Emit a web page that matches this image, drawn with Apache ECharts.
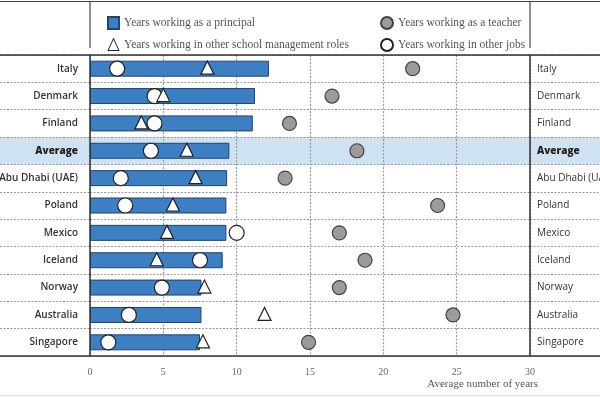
<!DOCTYPE html>
<html>
<head>
<meta charset="utf-8">
<script src="https://cdn.jsdelivr.net/npm/echarts/dist/echarts.min.js"></script>
<style>html,body{margin:0;padding:0;background:#fff;}#c{width:600px;height:400px;}</style>
</head>
<body>
<div id="c"></div>
<script>
const categories = ['Italy','Denmark','Finland','Average','Abu Dhabi (UAE)','Poland','Mexico','Iceland','Norway','Australia','Singapore'];
const principalYears = [12.2, 11.25, 11.1, 9.5, 9.35, 9.3, 9.3, 9.05, 7.6, 7.6, 7.5];
const teacherYears = [22.0, 16.5, 13.6, 18.2, 13.3, 23.7, 17.0, 18.75, 17.0, 24.75, 14.9];
const mgmtYears = [8.0, 5.0, 3.5, 6.6, 7.2, 5.65, 5.25, 4.55, 7.8, 11.9, 7.7];
const otherJobsYears = [1.85, 4.4, 4.4, 4.15, 2.1, 2.4, 10.0, 7.5, 4.9, 2.65, 1.25];
const xTicks = {min: 0, max: 30, interval: 5};
const names = {
  principal: 'Years working as a principal',
  mgmt: 'Years working in other school management roles',
  teacher: 'Years working as a teacher',
  other: 'Years working in other jobs'
};

const chart = echarts.init(document.getElementById('c'));
const hl = categories.indexOf('Average');
const bandColors = categories.map((c, i) => i === hl ? '#cfe2f1' : 'rgba(0,0,0,0)');
const sep = {show: true, lineStyle: {color: '#9a9a9a', type: [2, 1.5], width: 1.2}};
const area = {show: true, areaStyle: {color: bandColors}};
const sans = 'Open Sans';
const serif = 'Liberation Serif';
const gTop = 55, gBottom = 44;

function yAx(grid, extra) {
  return Object.assign({
    type: 'category', data: categories, inverse: true, gridIndex: grid,
    axisLine: {show: false}, axisTick: {show: false},
    splitLine: sep, splitArea: area, axisLabel: {show: false}
  }, extra);
}

chart.setOption({
  animation: false,
  grid: [
    {left: 90, right: 70, top: gTop, bottom: gBottom, containLabel: false, outerBoundsMode: 'none'},
    {left: 0, width: 90, top: gTop, bottom: gBottom, containLabel: false, outerBoundsMode: 'none'},
    {left: 530, right: 0, top: gTop, bottom: gBottom, containLabel: false, outerBoundsMode: 'none'}
  ],
  legend: [
    {orient: 'vertical', left: 102, top: 11, itemWidth: 11, itemHeight: 12, itemGap: 8,
     textStyle: {fontFamily: serif, fontSize: 11.5, color: '#555'},
     data: [{name: names.principal, icon: 'rect'}, {name: names.mgmt, itemStyle: {borderWidth: 1}}]},
    {orient: 'vertical', left: 375, top: 11, itemWidth: 12, itemHeight: 12, itemGap: 8,
     textStyle: {fontFamily: serif, fontSize: 11.5, color: '#555'},
     data: [names.teacher, names.other]}
  ],
  xAxis: [
    {type: 'value', gridIndex: 0, min: xTicks.min, max: xTicks.max, interval: xTicks.interval,
     axisLine: {show: false}, axisTick: {show: false},
     axisLabel: {color: '#666', fontFamily: serif, fontSize: 10, margin: 11},
     splitLine: sep,
     name: 'Average number of years', nameLocation: 'end', nameGap: 8,
     nameTextStyle: {fontFamily: serif, fontSize: 11, color: '#555', align: 'right', verticalAlign: 'top', padding: [23, 0, 0, 0]}},
    {type: 'value', gridIndex: 1, show: false, min: 0, max: 1},
    {type: 'value', gridIndex: 2, show: false, min: 0, max: 1}
  ],
  yAxis: [
    yAx(0, {axisLabel: {show: true, margin: 12, color: '#333', fontFamily: sans, fontSize: 10, fontWeight: 600,
      formatter: v => v === 'Average' ? '{b|' + v + '}' : v,
      rich: {b: {fontFamily: sans, fontSize: 10, fontWeight: 800, color: '#222'}}}}),
    yAx(1, {}),
    yAx(2, {position: 'left', axisLabel: {show: true, inside: true, margin: 7, color: '#333', fontFamily: sans, fontSize: 10,
      formatter: v => v === 'Average' ? '{b|' + v + '}' : v,
      rich: {b: {fontFamily: sans, fontSize: 10, fontWeight: 800, color: '#222'}}}})
  ],
  series: [
    {name: names.principal, type: 'bar', xAxisIndex: 0, yAxisIndex: 0, data: principalYears, barWidth: 16,
     itemStyle: {color: '#3c7fc2', borderColor: '#22456b', borderWidth: 1}},
    {name: names.teacher, type: 'scatter', xAxisIndex: 0, yAxisIndex: 0, data: teacherYears, symbol: 'circle', symbolSize: 14,
     itemStyle: {color: '#9b9b9b', borderColor: '#444', borderWidth: 1.2, opacity: 1}},
    {name: names.other, type: 'scatter', xAxisIndex: 0, yAxisIndex: 0, data: otherJobsYears, symbol: 'circle', symbolSize: 15,
     itemStyle: {color: '#fff', borderColor: '#222', borderWidth: 1.2, opacity: 1}},
    {name: names.mgmt, type: 'scatter', xAxisIndex: 0, yAxisIndex: 0, data: mgmtYears, symbol: 'triangle', symbolSize: [13, 13],
     symbolOffset: [0, -1],
     itemStyle: {color: '#fff', borderColor: '#222', borderWidth: 1.2, opacity: 1}}
  ],
  graphic: [
    {type: 'line', z: 100, shape: {x1: 0, y1: 1.5, x2: 600, y2: 1.5}, style: {stroke: '#444', lineWidth: 1}},
    {type: 'line', z: 100, shape: {x1: 90, y1: 1, x2: 90, y2: 48}, style: {stroke: '#444', lineWidth: 1.2}},
    {type: 'line', z: 100, shape: {x1: 530, y1: 1, x2: 530, y2: 48}, style: {stroke: '#444', lineWidth: 1.2}},
    {type: 'line', z: 100, shape: {x1: 0, y1: 55, x2: 600, y2: 55}, style: {stroke: '#333', lineWidth: 1.5}},
    {type: 'line', z: 100, shape: {x1: 90, y1: 55, x2: 90, y2: 356}, style: {stroke: '#333', lineWidth: 1.5}},
    {type: 'line', z: 100, shape: {x1: 530, y1: 55, x2: 530, y2: 356}, style: {stroke: '#333', lineWidth: 1.5}},
    {type: 'line', z: 100, shape: {x1: 0, y1: 356, x2: 600, y2: 356}, style: {stroke: '#333', lineWidth: 1.5}},
    {type: 'line', z: 100, shape: {x1: 0, y1: 395.5, x2: 600, y2: 395.5}, style: {stroke: '#e2e2e2', lineWidth: 1}}
  ]
});
</script>
</body>
</html>
